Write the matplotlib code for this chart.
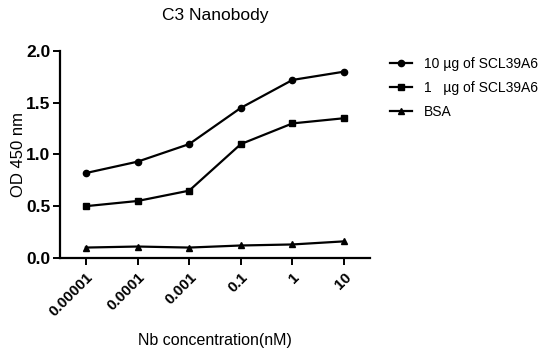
import matplotlib.pyplot as plt
import numpy as np

plt.rcParams['font.family'] = ['Liberation Sans', 'DejaVu Sans']

conc = ['0.00001', '0.0001', '0.001', '0.1', '1', '10']
od_10ug = [0.82, 0.93, 1.10, 1.45, 1.72, 1.80]
od_1ug = [0.50, 0.55, 0.65, 1.10, 1.30, 1.35]
od_bsa = [0.10, 0.11, 0.10, 0.12, 0.13, 0.16]
labels = ['10 \u00b5g of SCL39A6', '1   \u00b5g of SCL39A6', 'BSA']

fig = plt.figure(figsize=(5.47, 3.49), dpi=100)
ax = fig.add_axes([0.1097, 0.261, 0.5667, 0.593])

x = np.arange(len(conc))
ax.plot(x, od_10ug, color='black', lw=1.6, marker='o', ms=4.5, label=labels[0])
ax.plot(x, od_1ug, color='black', lw=1.6, marker='s', ms=4.5, label=labels[1])
ax.plot(x, od_bsa, color='black', lw=1.6, marker='^', ms=4.5, label=labels[2])

ax.set_xlim(-0.5, 5.5)
ax.set_ylim(0, 2.0)
ax.set_xticks(x)
ax.set_xticklabels(conc, rotation=45, ha='right', rotation_mode='anchor',
                   fontweight='bold', fontsize=11)
ax.set_yticks([0.0, 0.5, 1.0, 1.5, 2.0])
ax.set_yticklabels(['0.0', '0.5', '1.0', '1.5', '2.0'], fontweight='bold', fontsize=12.5)
for s in ['top', 'right']:
    ax.spines[s].set_visible(False)
for s in ['left', 'bottom']:
    ax.spines[s].set_linewidth(1.6)
ax.tick_params(width=1.4, length=5)
ax.tick_params(axis='y', pad=2)

ax.set_title('C3 Nanobody', fontsize=12.5, pad=22)
ax.set_ylabel('OD 450 nm', fontsize=12, labelpad=0)
ax.set_xlabel('Nb concentration(nM)', fontsize=11.5, labelpad=10)

ax.legend(loc='upper left', bbox_to_anchor=(1.025, 1.03), frameon=False,
          fontsize=10, handlelength=1.6, labelspacing=0.7)

fig.savefig('out.png', dpi=100)
